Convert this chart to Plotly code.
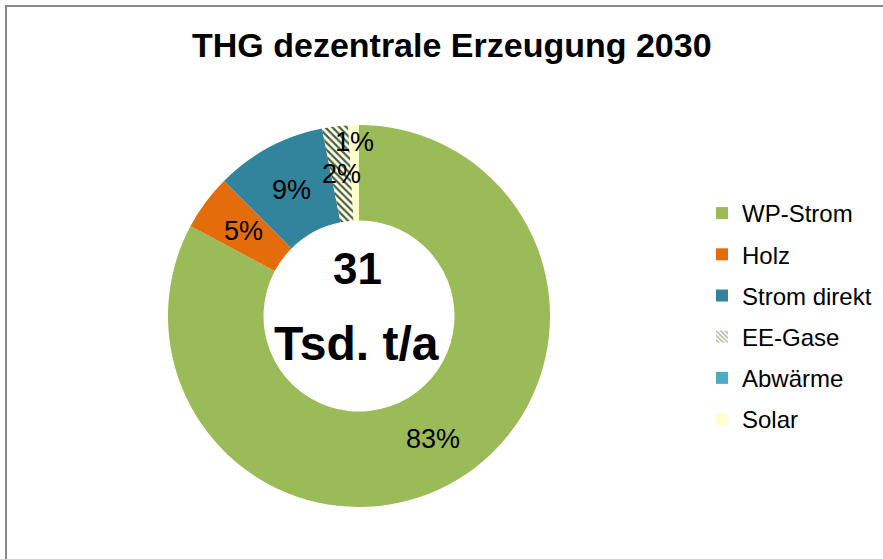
import math
import plotly.graph_objects as go

# ---- data ----
categories = ["WP-Strom", "Holz", "Strom direkt", "EE-Gase", "Abwärme", "Solar"]
shares = [82.8, 4.7, 9.4, 2.2, 0.0, 0.9]          # % of total
total_label = "31"
total_unit = "Tsd. t/a"
title_text = "THG dezentrale Erzeugung 2030"

# ---- style ----
colors = ["#9BBB59", "#E46C0A", "#31849B", "#FFFFFF", "#4BACC6", "#FFFFCC"]
patterns = ["", "", "", "\\", "", ""]
label_radius = [0.5, 0.5, 0.5, 0.5, 0.5, 0.82]   # position across ring (0=inner, 1=outer)

W, H = 883, 559
CX, CY, R = 359, 316, 191    # page pixel geometry of the donut
HOLE = 0.5
FONT = "Liberation Sans, Arial, sans-serif"


def px_x(p):
    return p / W


def px_y(p):
    return 1 - p / H


fig = go.Figure()

fig.add_trace(go.Pie(
    labels=categories,
    values=shares,
    sort=False,
    direction="clockwise",
    rotation=0,
    hole=HOLE,
    textinfo="none",
    showlegend=False,
    hoverinfo="label+percent",
    marker=dict(
        colors=colors,
        line=dict(width=0),
        pattern=dict(shape=patterns, fgcolor="#4F6228", bgcolor="#FFFFFF",
                     size=5, solidity=0.45),
    ),
    domain=dict(x=[px_x(CX - R), px_x(CX + R)],
                y=[px_y(CY + R), px_y(CY - R)]),
))

# percentage labels placed along each slice bisector (derived from the data)
tot = sum(shares)
annotations = []
cum = 0.0
for name, v, lr in zip(categories, shares, label_radius):
    if v > 0:
        mid = (cum + v / 2) / tot * 2 * math.pi
        r = R * (HOLE + (1 - HOLE) * lr)
        px = CX + r * math.sin(mid)
        py = CY - r * math.cos(mid)
        annotations.append(dict(
            x=px_x(px), y=px_y(py), xref="paper", yref="paper",
            text=f"{round(v / tot * 100):.0f}%", showarrow=False,
            font=dict(family=FONT, size=27, color="#000000"),
            xanchor="center", yanchor="middle"))
    cum += v

# centre text
annotations.append(dict(x=px_x(357), y=px_y(268), xref="paper", yref="paper",
                        text=f"<b>{total_label}</b>", showarrow=False,
                        font=dict(family=FONT, size=44, color="#000000"),
                        xanchor="center", yanchor="middle"))
annotations.append(dict(x=px_x(356), y=px_y(343), xref="paper", yref="paper",
                        text=f"<b>{total_unit}</b>", showarrow=False,
                        font=dict(family=FONT, size=48, color="#000000"),
                        xanchor="center", yanchor="middle"))
# title
annotations.append(dict(x=px_x(452), y=px_y(45), xref="paper", yref="paper",
                        text=f"<b>{title_text}</b>", showarrow=False,
                        font=dict(family=FONT, size=34, color="#000000"),
                        xanchor="center", yanchor="middle"))

# legend entries (one per category, spaced via trace groups)
for i, name in enumerate(categories):
    fig.add_trace(go.Bar(
        x=[None], y=[None], name=name, legendgroup=f"g{i}",
        marker=dict(color=colors[i], line=dict(width=0),
                    pattern=dict(shape=patterns[i], fgcolor="#4F6228",
                                 bgcolor="#FFFFFF", size=4, solidity=0.45)),
        hoverinfo="skip",
    ))

fig.update_layout(
    width=W, height=H,
    margin=dict(l=0, r=0, t=0, b=0),
    paper_bgcolor="#FFFFFF",
    plot_bgcolor="#FFFFFF",
    xaxis=dict(visible=False),
    yaxis=dict(visible=False),
    annotations=annotations,
    legend=dict(
        x=px_x(702), y=px_y(191), xanchor="left", yanchor="top",
        font=dict(family=FONT, size=24, color="#000000"),
        traceorder="grouped", tracegroupgap=7,
        bgcolor="rgba(0,0,0,0)",
    ),
    shapes=[
        dict(type="line", xref="paper", yref="paper",
             x0=px_x(5), x1=1, y0=px_y(6), y1=px_y(6),
             line=dict(color="#898989", width=2)),
        dict(type="line", xref="paper", yref="paper",
             x0=px_x(6), x1=px_x(6), y0=px_y(5), y1=0,
             line=dict(color="#898989", width=2)),
    ],
)

fig.write_html(
    "out.html",
    config={"displayModeBar": False},
    post_script="document.body.style.margin='0';"
                "document.body.style.overflow='hidden';",
)
